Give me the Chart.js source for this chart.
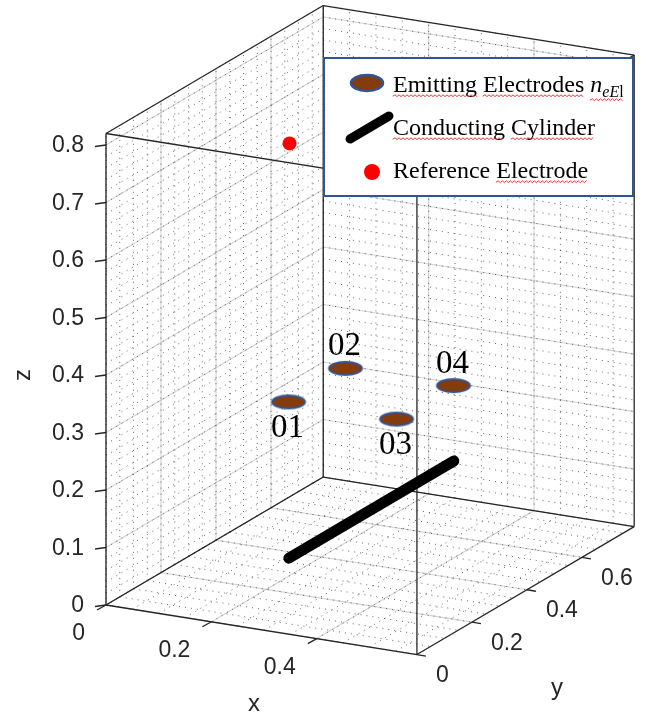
<!DOCTYPE html>
<html>
<head>
<meta charset="utf-8">
<script src="https://cdn.jsdelivr.net/npm/chart.js@4/dist/chart.umd.min.js"></script>
<style>
  html, body { margin: 0; padding: 0; background: #fff; }
  canvas { display: block; }
</style>
</head>
<body>
<canvas id="myChart" width="664" height="719"></canvas>
<script>
// axis limits and ticks
var xLim = [0, 0.59];
var yLim = [0, 0.79];
var zLim = [0, 0.82];
var xTicks = [0, 0.2, 0.4];
var yTicks = [0, 0.2, 0.4, 0.6];
var zTicks = [0, 0.1, 0.2, 0.3, 0.4, 0.5, 0.6, 0.7, 0.8];
var xMinorStep = 0.05, yMinorStep = 0.05, zMinorStep = 0.02;

// emitting electrodes
var electrodeNames = ['01', '02', '03', '04'];
var electrodeX = [0.195, 0.195, 0.4, 0.4];
var electrodeY = [0.29, 0.497, 0.29, 0.497];
var electrodeZ = [0.3, 0.3, 0.3, 0.3];
var labelAbove = [false, true, false, true];

// conducting cylinder (start, end)
var cylinderX = [0.3, 0.3];
var cylinderY = [0.09, 0.69];
var cylinderZ = [0.1, 0.1];

// reference electrode
var refX = [0.27];
var refY = [0.15];
var refZ = [0.8];

var brown = '#843C0C';
var blue = '#2F5597';
var axisColor = '#262626';

// simple parallel projection of the 3d box onto the page
function proj(x, y, z) {
  return {
    x: 106 + 527 * x + 275 * y,
    y: 605 + 84 * x - 162 * y - 575 * z
  };
}

function P(chart, x, y, z) {
  var p = proj(x, y, z);
  return [chart.scales.x.getPixelForValue(p.x), chart.scales.y.getPixelForValue(p.y)];
}

function steps(lo, hi, st) {
  var out = [];
  for (var v = lo; v <= hi + 1e-9; v += st) out.push(Math.round(v * 1000) / 1000);
  return out;
}

function seg(ctx, a, b) {
  ctx.beginPath();
  ctx.moveTo(a[0], a[1]);
  ctx.lineTo(b[0], b[1]);
  ctx.stroke();
}

var ellipseIcon = document.createElement('canvas');
ellipseIcon.width = 38;
ellipseIcon.height = 17;
(function() {
  var c = ellipseIcon.getContext('2d');
  c.beginPath();
  c.ellipse(19, 8.5, 16.5, 6.5, 0, 0, Math.PI * 2);
  c.fillStyle = brown;
  c.fill();
  c.lineWidth = 2;
  c.strokeStyle = blue;
  c.stroke();
})();

var box3d = {
  id: 'box3d',
  beforeDatasetsDraw: function(chart) {
    var ctx = chart.ctx;
    var x0 = xLim[0], x1 = xLim[1], y0 = yLim[0], y1 = yLim[1], z0 = zLim[0], z1 = zLim[1];
    ctx.save();

    // minor grid, dotted
    ctx.strokeStyle = 'rgba(0,0,0,0.6)';
    ctx.lineWidth = 1;
    ctx.setLineDash([1, 5]);
    steps(x0, x1, xMinorStep).forEach(function(x) {
      seg(ctx, P(chart, x, y0, z0), P(chart, x, y1, z0));
      seg(ctx, P(chart, x, y1, z0), P(chart, x, y1, z1));
    });
    steps(y0, y1, yMinorStep).forEach(function(y) {
      seg(ctx, P(chart, x0, y, z0), P(chart, x1, y, z0));
      seg(ctx, P(chart, x0, y, z0), P(chart, x0, y, z1));
    });
    steps(z0, z1, zMinorStep).forEach(function(z) {
      seg(ctx, P(chart, x0, y0, z), P(chart, x0, y1, z));
      seg(ctx, P(chart, x0, y1, z), P(chart, x1, y1, z));
    });

    // major grid
    ctx.setLineDash([]);
    ctx.strokeStyle = 'rgba(0,0,0,0.16)';
    ctx.lineWidth = 1.2;
    xTicks.forEach(function(x) {
      seg(ctx, P(chart, x, y0, z0), P(chart, x, y1, z0));
      seg(ctx, P(chart, x, y1, z0), P(chart, x, y1, z1));
    });
    yTicks.forEach(function(y) {
      seg(ctx, P(chart, x0, y, z0), P(chart, x1, y, z0));
      seg(ctx, P(chart, x0, y, z0), P(chart, x0, y, z1));
    });
    zTicks.forEach(function(z) {
      seg(ctx, P(chart, x0, y0, z), P(chart, x0, y1, z));
      seg(ctx, P(chart, x0, y1, z), P(chart, x1, y1, z));
    });

    // box edges
    ctx.strokeStyle = axisColor;
    ctx.lineWidth = 1.3;
    [z0, z1].forEach(function(z) {
      seg(ctx, P(chart, x0, y0, z), P(chart, x1, y0, z));
      seg(ctx, P(chart, x1, y0, z), P(chart, x1, y1, z));
      seg(ctx, P(chart, x1, y1, z), P(chart, x0, y1, z));
      seg(ctx, P(chart, x0, y1, z), P(chart, x0, y0, z));
    });
    [[x0, y0], [x1, y0], [x1, y1], [x0, y1]].forEach(function(c) {
      seg(ctx, P(chart, c[0], c[1], z0), P(chart, c[0], c[1], z1));
    });

    // ticks and tick labels
    ctx.fillStyle = axisColor;
    ctx.font = '23px "Liberation Sans", Arial, sans-serif';
    ctx.textBaseline = 'middle';
    ctx.textAlign = 'right';
    zTicks.forEach(function(z) {
      var p = P(chart, x0, y0, z);
      seg(ctx, p, [p[0] - 11, p[1] + 1.5]);
      ctx.fillText(String(z), p[0] - 22, p[1] + 1);
    });
    xTicks.forEach(function(x) {
      var p = P(chart, x, y0, z0);
      seg(ctx, p, [p[0] - 9, p[1] + 5]);
      ctx.fillText(String(x), p[0] - 21, p[1] + 29);
    });
    ctx.textAlign = 'left';
    yTicks.forEach(function(y) {
      var p = P(chart, x1, y, z0);
      seg(ctx, p, [p[0] + 9, p[1] + 1.5]);
      ctx.fillText(String(y), p[0] + 19, p[1] + 21);
    });

    // axis names
    ctx.font = '24px "Liberation Sans", Arial, sans-serif';
    ctx.textAlign = 'center';
    ctx.fillText('x', 254, 704);
    ctx.fillText('y', 557, 688);
    ctx.save();
    ctx.translate(23, 375);
    ctx.rotate(-Math.PI / 2);
    ctx.fillText('z', 0, 0);
    ctx.restore();

    ctx.restore();
  }
};

function wavy(ctx, xa, xb, y) {
  ctx.save();
  ctx.strokeStyle = 'rgba(230,20,20,0.85)';
  ctx.lineWidth = 1;
  ctx.beginPath();
  var up = true;
  ctx.moveTo(xa, y);
  for (var x = xa + 2; x <= xb; x += 2) {
    ctx.lineTo(x, up ? y - 1.2 : y + 0.6);
    up = !up;
  }
  ctx.stroke();
  ctx.restore();
}

var overlay = {
  id: 'overlay',
  afterDatasetsDraw: function(chart) {
    var ctx = chart.ctx;
    ctx.save();

    // electrode labels
    var meta = chart.getDatasetMeta(1);
    ctx.fillStyle = '#000';
    ctx.font = '33px "Liberation Serif", "Times New Roman", serif';
    ctx.textAlign = 'center';
    ctx.textBaseline = 'alphabetic';
    meta.data.forEach(function(pt, i) {
      ctx.fillText(electrodeNames[i], pt.x - 1, labelAbove[i] ? pt.y - 13 : pt.y + 35);
    });

    // legend box
    ctx.fillStyle = '#fff';
    ctx.fillRect(324, 58, 309, 138);
    ctx.strokeStyle = blue;
    ctx.lineWidth = 2;
    ctx.strokeRect(324, 58, 309, 138);

    ctx.beginPath();
    ctx.ellipse(367, 83, 16, 8, 0, 0, Math.PI * 2);
    ctx.fillStyle = brown;
    ctx.fill();
    ctx.lineWidth = 2.5;
    ctx.strokeStyle = blue;
    ctx.stroke();

    ctx.beginPath();
    ctx.moveTo(350, 139);
    ctx.lineTo(389, 116);
    ctx.lineWidth = 9;
    ctx.lineCap = 'round';
    ctx.strokeStyle = '#000';
    ctx.stroke();

    ctx.beginPath();
    ctx.arc(372, 172, 8, 0, Math.PI * 2);
    ctx.fillStyle = '#ff0000';
    ctx.fill();

    var serif = '"Liberation Serif", "Times New Roman", serif';
    ctx.fillStyle = '#000';
    ctx.textAlign = 'left';
    ctx.font = '24px ' + serif;
    var tx = 393;
    function words(list, y, underline) {
      var x = tx;
      list.forEach(function(w, i) {
        var wd = ctx.measureText(w).width;
        ctx.fillText(w, x, y);
        if (underline[i]) wavy(ctx, x, x + wd, y + 4);
        x += wd + ctx.measureText(' ').width;
      });
      return x;
    }
    var xe = words(['Emitting', 'Electrodes'], 92, [true, true]);
    ctx.font = 'italic 24px ' + serif;
    ctx.fillText('n', xe, 92);
    var xs = xe + ctx.measureText('n').width;
    ctx.font = 'italic 16px ' + serif;
    ctx.fillText('eE', xs, 97);
    var xl = xs + ctx.measureText('eE').width;
    ctx.font = '16px ' + serif;
    ctx.fillText('l', xl, 97);
    wavy(ctx, xe, xl + ctx.measureText('l').width, 100);
    ctx.font = '24px ' + serif;
    words(['Conducting', 'Cylinder'], 135, [true, true]);
    words(['Reference', 'Electrode'], 178, [false, true]);

    ctx.restore();
  }
};

var cylinderData = cylinderX.map(function(x, i) { return proj(x, cylinderY[i], cylinderZ[i]); });
var electrodeData = electrodeX.map(function(x, i) { return proj(x, electrodeY[i], electrodeZ[i]); });
var refData = refX.map(function(x, i) { return proj(x, refY[i], refZ[i]); });

var myChart = new Chart(document.getElementById('myChart').getContext('2d'), {
  type: 'scatter',
  data: {
    datasets: [{
      label: 'Conducting Cylinder',
      data: cylinderData,
      showLine: true,
      borderColor: '#000',
      borderWidth: 11,
      borderCapStyle: 'round',
      pointRadius: 0
    }, {
      label: 'Emitting Electrodes',
      data: electrodeData,
      pointStyle: ellipseIcon,
      pointRadius: 10
    }, {
      label: 'Reference Electrode',
      data: refData,
      pointStyle: 'circle',
      pointRadius: 7,
      backgroundColor: '#ff0000',
      borderColor: '#ff0000',
      borderWidth: 0
    }]
  },
  options: {
    responsive: false,
    animation: false,
    events: [],
    layout: { padding: 0, autoPadding: false },
    plugins: {
      legend: { display: false },
      tooltip: { enabled: false }
    },
    scales: {
      x: { type: 'linear', min: 0, max: 664, display: false },
      y: { type: 'linear', min: 0, max: 719, reverse: true, display: false }
    }
  },
  plugins: [box3d, overlay]
});
</script>
</body>
</html>
